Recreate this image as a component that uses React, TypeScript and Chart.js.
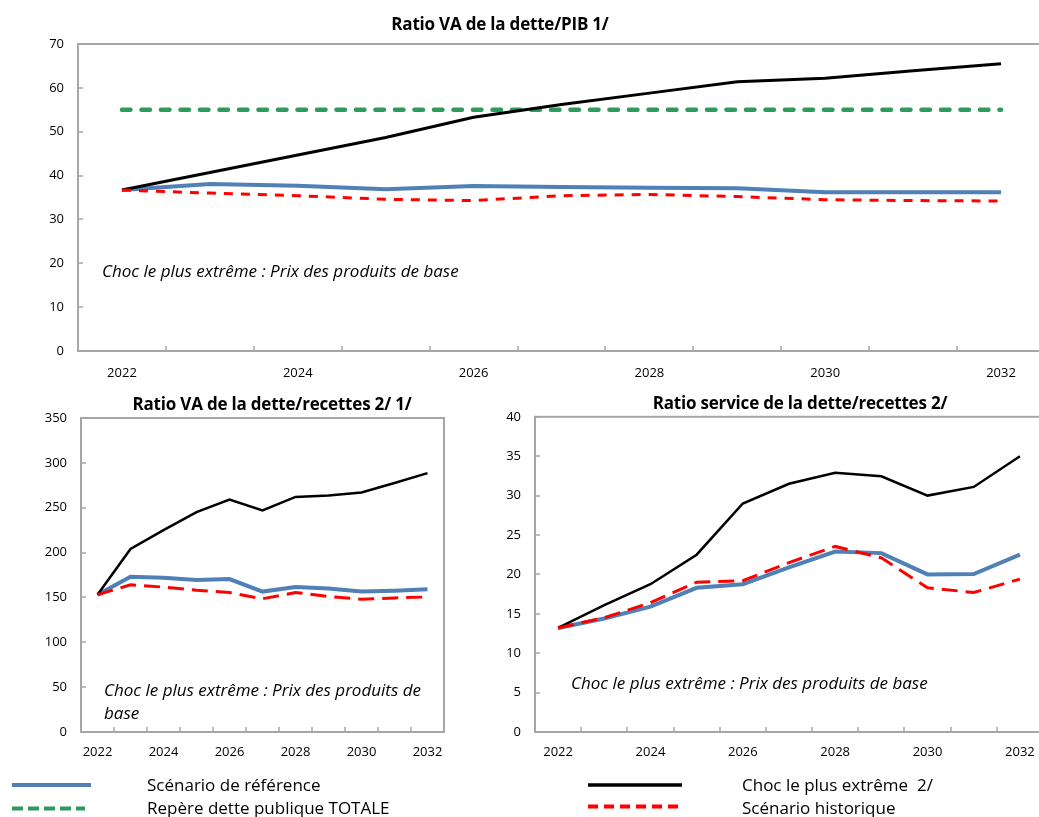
import React, { useEffect, useRef } from "react";
import { Chart, registerables } from "chart.js";

Chart.register(...registerables);

// ---------- DATA ----------
const years = ["2022", "2023", "2024", "2025", "2026", "2027", "2028", "2029", "2030", "2031", "2032"];

// Ratio VA de la dette/PIB
const pibReference = [36.7, 38.1, 37.7, 36.9, 37.6, 37.4, 37.2, 37.1, 36.2, 36.2, 36.2];
const pibExtreme = [36.7, 40.7, 44.7, 48.7, 53.3, 56.2, 58.8, 61.4, 62.2, 63.9, 65.5];
const pibHistorique = [36.7, 36.0, 35.4, 34.6, 34.3, 35.4, 35.7, 35.2, 34.5, 34.3, 34.2];
const pibRepere = [55, 55, 55, 55, 55, 55, 55, 55, 55, 55, 55];

// Ratio VA de la dette/recettes
const recReference = [153, 173, 172, 169.5, 170.5, 156.5, 161.5, 160, 156.5, 157.5, 159];
const recExtreme = [153, 204, 225, 245, 259, 247, 262, 263.5, 267, 277.5, 288.5];
const recHistorique = [153, 164, 161.5, 158, 155.5, 148.5, 155.5, 151, 148, 149.5, 150.5];

// Ratio service de la dette/recettes
const svcReference = [13.2, 14.4, 15.9, 18.3, 18.75, 20.9, 22.9, 22.7, 20.0, 20.05, 22.5];
const svcExtreme = [13.2, 16.1, 18.75, 22.5, 29.0, 31.5, 32.9, 32.45, 30.0, 31.1, 35.0];
const svcHistorique = [13.2, 14.5, 16.4, 19.0, 19.2, 21.5, 23.55, 22.1, 18.3, 17.7, 19.4];

const FONT = "'Open Sans', 'Noto Sans', sans-serif";
const BLUE = "#4f81b7";
const GREEN = "#2e9a5c";
const RED = "#ff0000";
const FRAME = "#a6a6a6";

type DS = {
  label: string;
  data: number[];
  color: string;
  width: number;
  dash?: number[];
  cap?: "butt" | "round";
  order: number;
};

const framePlugin = {
  id: "frameTicks",
  beforeDatasetsDraw(chart: any) {
    const { ctx, chartArea: a, scales } = chart;
    ctx.save();
    ctx.strokeStyle = FRAME;
    ctx.lineWidth = 2;
    ctx.strokeRect(a.left, a.top, a.right - a.left, a.bottom - a.top);
    ctx.lineWidth = 1.5;
    const y = scales.y;
    y.ticks.forEach((_t: any, i: number) => {
      const py = Math.round(y.getPixelForTick(i));
      ctx.beginPath();
      ctx.moveTo(a.left, py);
      ctx.lineTo(a.left + 5, py);
      ctx.stroke();
    });
    const x = scales.x;
    for (let i = 0; i < years.length - 1; i++) {
      const px = Math.round((x.getPixelForValue(i) + x.getPixelForValue(i + 1)) / 2);
      ctx.beginPath();
      ctx.moveTo(px, a.bottom);
      ctx.lineTo(px, a.bottom - 5);
      ctx.stroke();
    }
    ctx.restore();
  },
};

function LineChart(props: {
  width: number;
  height: number;
  left: number;
  top: number;
  datasets: DS[];
  min: number;
  max: number;
  step: number;
  yWidth: number;
  xHeight: number;
  padding: { top: number; right: number; bottom: number; left: number };
  yPad: number;
  xPad: number;
}) {
  const ref = useRef<HTMLCanvasElement>(null);
  useEffect(() => {
    if (!ref.current) return;
    const chart = new Chart(ref.current, {
      type: "line",
      data: {
        labels: years,
        datasets: props.datasets.map((d) => ({
          label: d.label,
          data: d.data,
          borderColor: d.color,
          backgroundColor: d.color,
          borderWidth: d.width,
          borderDash: d.dash || [],
          pointRadius: 0,
          tension: 0,
          fill: false,
          order: d.order,
          borderCapStyle: d.cap || "butt",
        })),
      },
      options: {
        animation: false,
        responsive: false,
        maintainAspectRatio: false,
        layout: { padding: props.padding },
        plugins: { legend: { display: false }, title: { display: false }, tooltip: { enabled: false } },
        scales: {
          x: {
            type: "category",
            offset: true,
            grid: { display: false, offset: true, drawTicks: false },
            border: { display: false },
            ticks: {
              autoSkip: false,
              maxRotation: 0,
              minRotation: 0,
              padding: props.xPad,
              color: "#000",
              font: { family: FONT, size: 13 },
              callback: (_v: any, i: number) => (i % 2 === 0 ? years[i] : ""),
            },
            afterFit: (s: any) => {
              s.height = props.xHeight;
            },
          },
          y: {
            min: props.min,
            max: props.max,
            grid: { display: false, drawTicks: false },
            border: { display: false },
            ticks: {
              stepSize: props.step,
              padding: props.yPad,
              color: "#000",
              font: { family: FONT, size: 13 },
            },
            afterFit: (s: any) => {
              s.width = props.yWidth;
            },
          },
        },
      },
      plugins: [framePlugin],
    });
    return () => chart.destroy();
  }, []);
  return (
    <canvas
      ref={ref}
      width={props.width}
      height={props.height}
      style={{ position: "absolute", left: props.left, top: props.top, width: props.width, height: props.height }}
    />
  );
}

const txt = (style: React.CSSProperties, content: React.ReactNode, extra: React.CSSProperties = {}) => (
  <div style={{ position: "absolute", whiteSpace: "nowrap", lineHeight: 1, ...style, ...extra }}>{content}</div>
);

export default function App() {
  const topSets: DS[] = [
    { label: "Repère dette publique TOTALE", data: pibRepere, color: GREEN, width: 4.5, dash: [8.5, 11], cap: "round", order: 3 },
    { label: "Scénario de référence", data: pibReference, color: BLUE, width: 4, order: 2 },
    { label: "Choc le plus extrême 2/", data: pibExtreme, color: "#000", width: 3, order: 1 },
    { label: "Scénario historique", data: pibHistorique, color: RED, width: 3, dash: [9, 8], order: 0 },
  ];
  const recSets: DS[] = [
    { label: "Scénario de référence", data: recReference, color: BLUE, width: 4, order: 2 },
    { label: "Choc le plus extrême 2/", data: recExtreme, color: "#000", width: 2.5, order: 1 },
    { label: "Scénario historique", data: recHistorique, color: RED, width: 3, dash: [16, 8], order: 0 },
  ];
  const svcSets: DS[] = [
    { label: "Scénario de référence", data: svcReference, color: BLUE, width: 4, order: 2 },
    { label: "Choc le plus extrême 2/", data: svcExtreme, color: "#000", width: 2.5, order: 1 },
    { label: "Scénario historique", data: svcHistorique, color: RED, width: 3, dash: [16, 8], order: 0 },
  ];
  const titleStyle: React.CSSProperties = { fontFamily: FONT, fontWeight: 700, fontSize: 17, color: "#000", letterSpacing: -0.2 };
  const noteStyle: React.CSSProperties = { fontFamily: FONT, fontStyle: "italic", fontSize: 17, color: "#000" };
  const legStyle: React.CSSProperties = { fontFamily: FONT, fontSize: 17, color: "#000" };

  return (
    <div
      style={{
        position: "fixed",
        left: 0,
        top: 0,
        width: 1039,
        height: 817,
        overflow: "hidden",
        background: "#fff",
      }}
    >
      <LineChart
        left={0}
        top={0}
        width={1050}
        height={390}
        datasets={topSets}
        min={0}
        max={70}
        step={10}
        yWidth={78}
        xHeight={39}
        padding={{ top: 44, right: 5, bottom: 0, left: 0 }}
        yPad={14}
        xPad={14}
      />
      <LineChart
        left={0}
        top={395}
        width={460}
        height={380}
        datasets={recSets}
        min={0}
        max={350}
        step={50}
        yWidth={81}
        xHeight={40}
        padding={{ top: 23, right: 16, bottom: 3, left: 0 }}
        yPad={14}
        xPad={12}
      />
      <LineChart
        left={470}
        top={395}
        width={580}
        height={380}
        datasets={svcSets}
        min={0}
        max={40}
        step={5}
        yWidth={65}
        xHeight={40}
        padding={{ top: 21, right: 7, bottom: 3, left: 0 }}
        yPad={14}
        xPad={12}
      />

      {txt(titleStyle, "Ratio VA de la dette/PIB 1/", { left: 500, top: 15, transform: "translateX(-50%)" })}
      {txt(titleStyle, "Ratio VA de la dette/recettes 2/ 1/", { left: 272, top: 395, transform: "translateX(-50%)" })}
      {txt(titleStyle, "Ratio service de la dette/recettes 2/", { left: 800, top: 394, transform: "translateX(-50%)" })}

      {txt(noteStyle, "Choc le plus extrême : Prix des produits de base", { left: 102, top: 262 })}
      {txt(noteStyle, "Choc le plus extrême : Prix des produits de", { left: 104, top: 681 })}
      {txt(noteStyle, "base", { left: 104, top: 704 })}
      {txt(noteStyle, "Choc le plus extrême : Prix des produits de base", { left: 571, top: 674 })}

      <svg width={1039} height={817} style={{ position: "absolute", left: 0, top: 0, pointerEvents: "none" }}>
        <line x1={12} y1={785} x2={91} y2={785} stroke={BLUE} strokeWidth={4} />
        <line x1={12} y1={808.5} x2={85} y2={808.5} stroke={GREEN} strokeWidth={4} strokeDasharray="11 5" />
        <line x1={588} y1={785} x2={682} y2={785} stroke="#000" strokeWidth={3.5} />
        <line x1={588} y1={806.5} x2={682} y2={806.5} stroke={RED} strokeWidth={4} strokeDasharray="10 6" />
      </svg>
      {txt(legStyle, "Scénario de référence", { left: 147, top: 776 })}
      {txt(legStyle, "Repère dette publique TOTALE", { left: 147, top: 799 })}
      {txt(legStyle, "Choc le plus extrême  2/", { left: 742, top: 776, whiteSpace: "pre" })}
      {txt(legStyle, "Scénario historique", { left: 742, top: 799 })}
    </div>
  );
}
